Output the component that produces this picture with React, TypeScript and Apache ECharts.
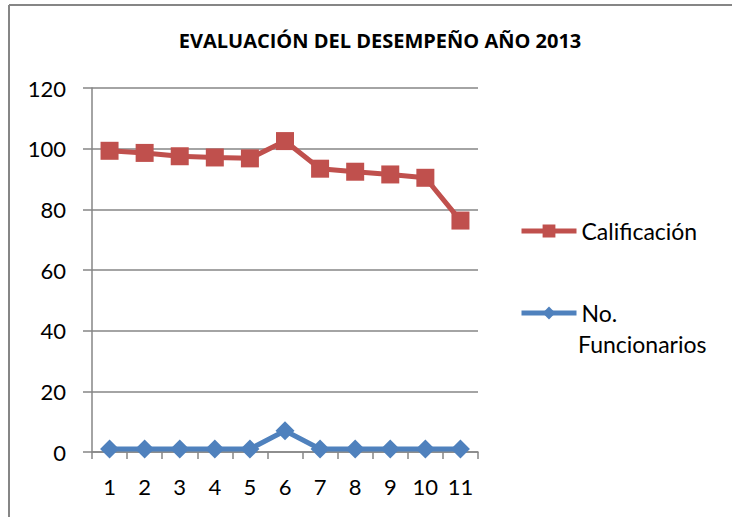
import React, { useEffect, useRef } from "react";
import * as echarts from "echarts";

const categories = ["1", "2", "3", "4", "5", "6", "7", "8", "9", "10", "11"];
const calificacion = [99.3, 98.6, 97.5, 97.1, 96.8, 102.5, 93.4, 92.4, 91.5, 90.4, 76.3];
const funcionarios = [1, 1, 1, 1, 1, 7, 1, 1, 1, 1, 1];
const titleText = "EVALUACIÓN DEL DESEMPEÑO AÑO 2013";
const serieNames = ["Calificación", "No. Funcionarios"];

const FONT = "Lato, 'Open Sans', sans-serif";
const GRAY = "#868686";

export default function App() {
  const ref = useRef<HTMLDivElement>(null);
  useEffect(() => {
    if (!ref.current) return;
    const chart = echarts.init(ref.current, null, { renderer: "svg" });
    chart.setOption({
      animation: false,
      backgroundColor: "#ffffff",
      title: {
        text: titleText,
        left: 375,
        top: 25,
        textAlign: "center",
        textStyle: { fontFamily: "'Open Sans', sans-serif", fontSize: 20, fontWeight: "bold", color: "#000" },
      },
      graphic: [
        {
          type: "line",
          shape: { x1: 9, y1: 5, x2: 740, y2: 5 },
          style: { stroke: GRAY, lineWidth: 2 },
          silent: true,
        },
        {
          type: "line",
          shape: { x1: 9, y1: 5, x2: 9, y2: 530 },
          style: { stroke: GRAY, lineWidth: 2 },
          silent: true,
        },
        {
          type: "text",
          left: 578,
          top: 332,
          style: { text: "Funcionarios", font: `23px ${FONT}`, fill: "#000" },
          silent: true,
        },
      ],
      legend: [
        {
          data: [serieNames[0]],
          orient: "vertical",
          left: 519,
          top: 216,
          padding: 0,
          itemWidth: 55,
          itemHeight: 16,
          lineStyle: { width: 5 },
          textStyle: { fontFamily: FONT, fontSize: 23, color: "#000", lineHeight: 30 },
        },
        {
          data: [serieNames[1]],
          orient: "vertical",
          left: 519,
          top: 298,
          padding: 0,
          itemWidth: 55,
          itemHeight: 16,
          lineStyle: { width: 5 },
          formatter: () => "No.",
          textStyle: { fontFamily: FONT, fontSize: 23, color: "#000", lineHeight: 30 },
        },
      ],
      grid: { left: 92, right: 254, top: 88, bottom: 65, containLabel: false },
      xAxis: {
        type: "category",
        data: categories,
        boundaryGap: true,
        axisLine: { lineStyle: { color: GRAY, width: 1.5 } },
        axisTick: { show: true, alignWithLabel: false, length: 7, lineStyle: { color: GRAY, width: 1.5 } },
        axisLabel: { fontFamily: FONT, fontSize: 22, color: "#000", margin: 23, interval: 0 },
        splitLine: { show: false },
      },
      yAxis: {
        type: "value",
        min: 0,
        max: 120,
        interval: 20,
        axisLine: { show: true, lineStyle: { color: GRAY, width: 1.5 } },
        axisTick: { show: true, length: 9, lineStyle: { color: GRAY, width: 1.5 } },
        axisLabel: { fontFamily: FONT, fontSize: 22, color: "#000", margin: 26 },
        splitLine: { show: true, lineStyle: { color: GRAY, width: 1.5 } },
      },
      series: [
        {
          name: serieNames[0],
          type: "line",
          data: calificacion,
          symbol: "rect",
          symbolSize: 18,
          itemStyle: { color: "#C0504D" },
          lineStyle: { color: "#C0504D", width: 5 },
        },
        {
          name: serieNames[1],
          type: "line",
          data: funcionarios,
          symbol: "diamond",
          symbolSize: 19,
          itemStyle: { color: "#4F81BD" },
          lineStyle: { color: "#4F81BD", width: 5 },
        },
      ],
    });
    return () => chart.dispose();
  }, []);
  return (
    <div
      ref={ref}
      style={{ position: "absolute", left: 0, top: 0, width: 732, height: 517 }}
    />
  );
}
